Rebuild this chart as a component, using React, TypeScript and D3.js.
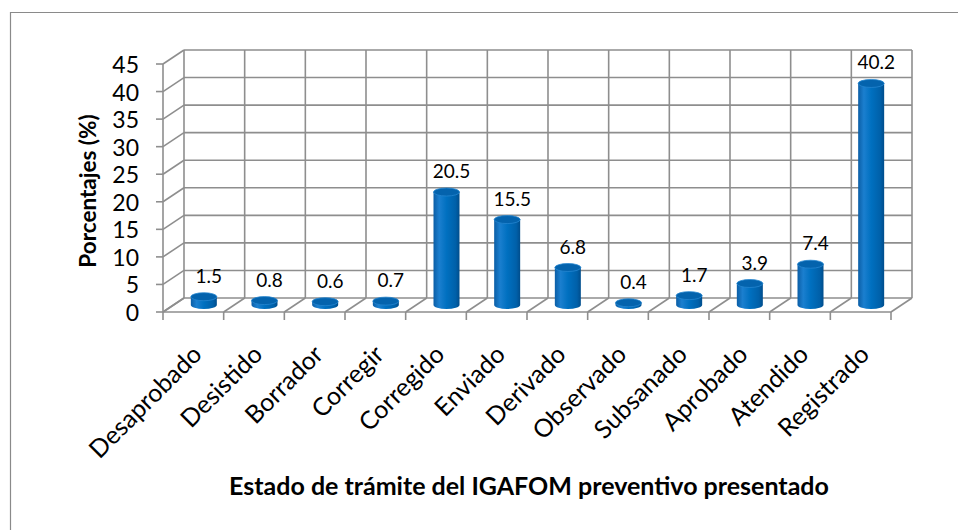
import React, { useEffect, useRef } from 'react';
import * as d3 from 'd3';

const categories = [
    'Desaprobado', 'Desistido', 'Borrador', 'Corregir', 'Corregido', 'Enviado',
    'Derivado', 'Observado', 'Subsanado', 'Aprobado', 'Atendido', 'Registrado'
];
const percentages = [1.5, 0.8, 0.6, 0.7, 20.5, 15.5, 6.8, 0.4, 1.7, 3.9, 7.4, 40.2];
const yTicks = [0, 5, 10, 15, 20, 25, 30, 35, 40, 45];

const yTitle = 'Porcentajes (%)';
const xTitle = 'Estado de trámite del IGAFOM preventivo presentado';

const App: React.FC = () => {
    const svgRef = useRef<SVGSVGElement | null>(null);

    useEffect(() => {
        const svg = d3.select(svgRef.current);
        svg.selectAll('*').remove();

        const width = 958;
        const height = 530;
        const font = 'Lato, "Open Sans", sans-serif';
        const gridColor = '#8e8e8e';

        // depth of the 3D box (back wall is shifted right and up)
        const depthX = 21;
        const depthY = -14;

        const x = d3.scaleBand<string>()
            .domain(categories)
            .range([163, 891])
            .padding(0);

        const y = d3.scaleLinear()
            .domain([0, 45])
            .range([312, 64]);

        svg.attr('width', width).attr('height', height);

        // chart area frame
        svg.append('path')
            .attr('d', `M10.5,${height} V12.5 H${width}`)
            .attr('fill', 'none')
            .attr('stroke', '#8a8a8a')
            .attr('stroke-width', 1.2);

        const grid = svg.append('g')
            .attr('stroke', gridColor)
            .attr('stroke-width', 1.6)
            .attr('fill', 'none');

        const x0 = x.range()[0];
        const x1 = x.range()[1];
        const bounds = categories.map(c => x(c) || 0).concat([x1]);

        // back wall horizontal gridlines
        grid.selectAll('.hgrid')
            .data(yTicks)
            .enter().append('line')
            .attr('x1', x0 + depthX)
            .attr('x2', x1 + depthX)
            .attr('y1', d => y(d) + depthY)
            .attr('y2', d => y(d) + depthY);

        // left side wall diagonals
        grid.selectAll('.sgrid')
            .data(yTicks)
            .enter().append('line')
            .attr('x1', x0)
            .attr('x2', x0 + depthX)
            .attr('y1', d => y(d))
            .attr('y2', d => y(d) + depthY);

        // back wall vertical gridlines
        grid.selectAll('.vgrid')
            .data(bounds)
            .enter().append('line')
            .attr('x1', d => d + depthX)
            .attr('x2', d => d + depthX)
            .attr('y1', y(45) + depthY)
            .attr('y2', y(0) + depthY);

        // floor diagonals
        grid.selectAll('.fgrid')
            .data(bounds)
            .enter().append('line')
            .attr('x1', d => d)
            .attr('x2', d => d + depthX)
            .attr('y1', y(0))
            .attr('y2', y(0) + depthY);

        // front axis lines
        grid.append('line')
            .attr('x1', x0).attr('x2', x0)
            .attr('y1', y(45)).attr('y2', y(0));
        grid.append('line')
            .attr('x1', x0).attr('x2', x1)
            .attr('y1', y(0)).attr('y2', y(0));

        // tick marks
        grid.selectAll('.ytick')
            .data(yTicks)
            .enter().append('line')
            .attr('x1', x0 - 7).attr('x2', x0)
            .attr('y1', d => y(d)).attr('y2', d => y(d));
        grid.selectAll('.xtick')
            .data(bounds)
            .enter().append('line')
            .attr('x1', d => d).attr('x2', d => d)
            .attr('y1', y(0)).attr('y2', y(0) + 8);

        // y tick labels
        svg.append('g')
            .selectAll('text')
            .data(yTicks)
            .enter().append('text')
            .attr('x', x0 - 24)
            .attr('y', d => y(d) + 9)
            .attr('text-anchor', 'end')
            .attr('font-family', font)
            .attr('font-size', '23px')
            .attr('fill', '#000')
            .text(d => d);

        // cylinder shading
        const defs = svg.append('defs');
        const grad = defs.append('linearGradient')
            .attr('id', 'cyl')
            .attr('x1', '0%').attr('x2', '100%')
            .attr('y1', '0%').attr('y2', '0%');
        grad.append('stop').attr('offset', '0%').attr('stop-color', '#0b5ea6');
        grad.append('stop').attr('offset', '22%').attr('stop-color', '#1b7fcf');
        grad.append('stop').attr('offset', '50%').attr('stop-color', '#0070c0');
        grad.append('stop').attr('offset', '85%').attr('stop-color', '#0060a9');
        grad.append('stop').attr('offset', '100%').attr('stop-color', '#004d8c');

        const rx = 13;
        const ry = 4;
        const cyl = svg.append('g');
        const data = categories.map((c, i) => ({ category: c, value: percentages[i] }));

        const cx = (d: { category: string }) => (x(d.category) || 0) + x.bandwidth() / 2 + depthX / 2;
        const baseY = y(0) + depthY / 2;
        const topY = (d: { value: number }) => y(d.value) + depthY / 2;

        cyl.selectAll('.body')
            .data(data)
            .enter().append('path')
            .attr('d', d => {
                const c = cx(d);
                const t = topY(d);
                return `M${c - rx},${t} L${c - rx},${baseY} A${rx},${ry} 0 0 0 ${c + rx},${baseY} L${c + rx},${t} Z`;
            })
            .attr('fill', 'url(#cyl)');

        cyl.selectAll('.top')
            .data(data)
            .enter().append('ellipse')
            .attr('cx', d => cx(d))
            .attr('cy', d => topY(d))
            .attr('rx', rx)
            .attr('ry', ry)
            .attr('fill', '#0463ad')
            .attr('stroke', '#2585cf')
            .attr('stroke-width', 0.8);

        // data labels
        svg.append('g')
            .selectAll('text')
            .data(data)
            .enter().append('text')
            .attr('x', d => cx(d) + 5)
            .attr('y', d => topY(d) - 14)
            .attr('text-anchor', 'middle')
            .attr('font-family', font)
            .attr('font-size', '19px')
            .attr('fill', '#000')
            .text(d => d.value.toFixed(1));

        // category labels
        svg.append('g')
            .selectAll('text')
            .data(categories)
            .enter().append('text')
            .attr('transform', d => `translate(${(x(d) || 0) + x.bandwidth() / 2 + 10},356) rotate(-45)`)
            .attr('text-anchor', 'end')
            .attr('font-family', font)
            .attr('font-size', '25px')
            .attr('fill', '#000')
            .text(d => d);

        // axis titles
        svg.append('text')
            .attr('transform', 'translate(96,191) rotate(-90)')
            .attr('text-anchor', 'middle')
            .attr('font-family', font)
            .attr('font-weight', 'bold')
            .attr('font-size', '22.5px')
            .attr('fill', '#000')
            .text(yTitle);

        svg.append('text')
            .attr('x', 529)
            .attr('y', 495)
            .attr('text-anchor', 'middle')
            .attr('font-family', font)
            .attr('font-weight', 'bold')
            .attr('font-size', '25px')
            .attr('fill', '#000')
            .text(xTitle);
    }, []);

    return (
        <div style={{ position: 'absolute', left: 0, top: 0, background: '#fff' }}>
            <svg ref={svgRef} style={{ display: 'block' }}></svg>
        </div>
    );
};

export default App;
